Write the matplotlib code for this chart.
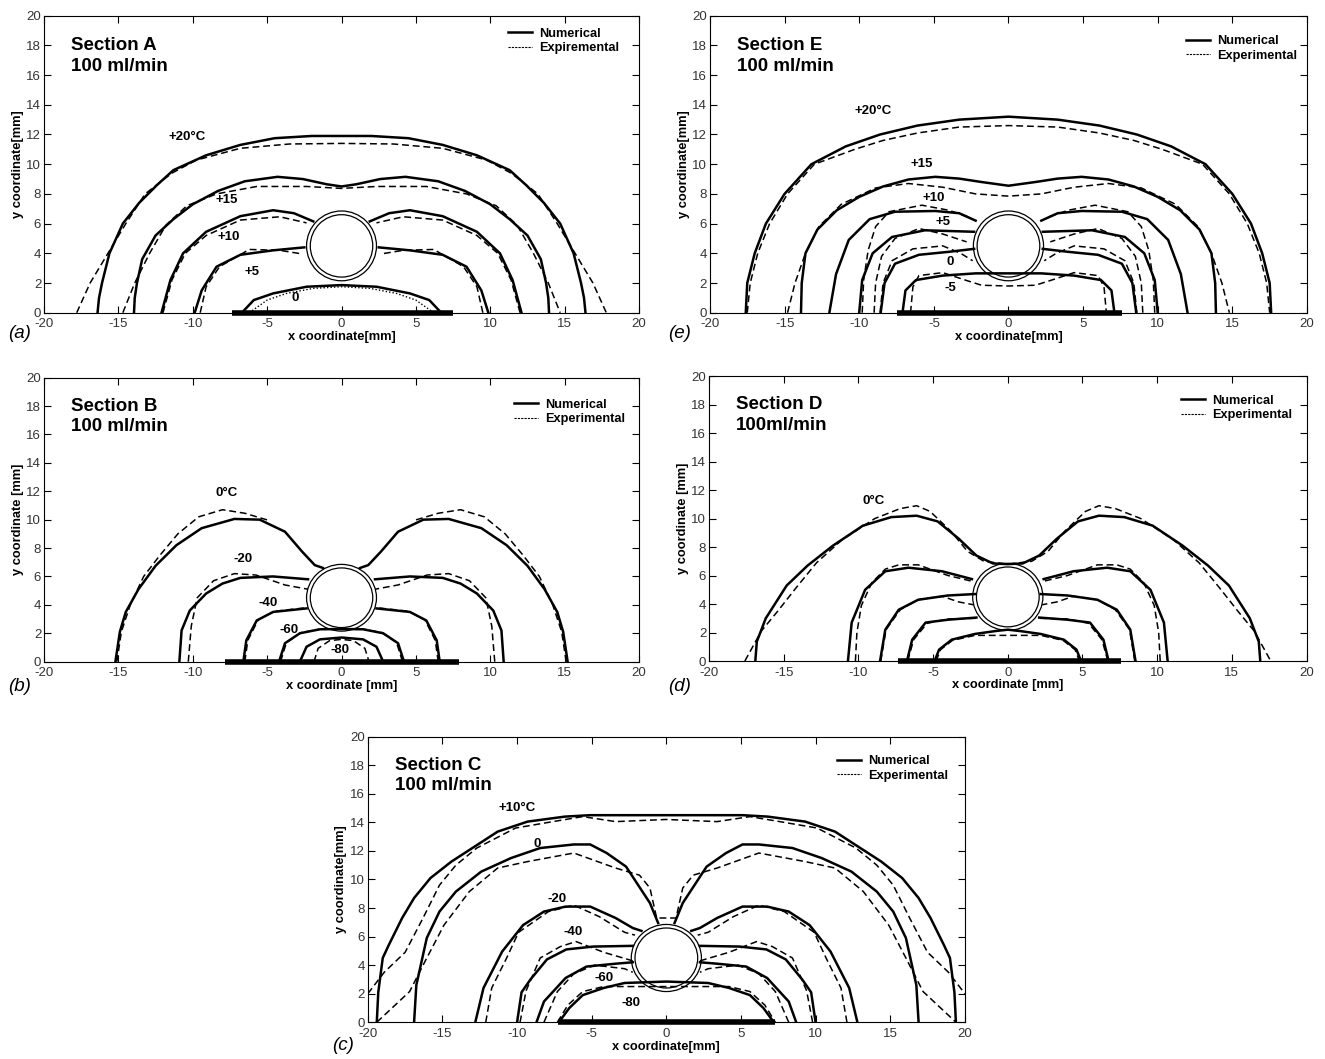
import numpy as np
import matplotlib
matplotlib.use("Agg")
import matplotlib.pyplot as plt
from matplotlib.lines import Line2D
from matplotlib.patches import Circle

plt.rcParams['font.family'] = ['Liberation Sans', 'DejaVu Sans']
plt.rcParams['axes.unicode_minus'] = False

# Isotherms are symmetric about x = 0: only the left half (x <= 0) is stored.
# A half ending at x = 0 runs over the tube, otherwise it stops at the tube wall.

# ---- Section A
A20_num = ([-16.4, -16.3, -16.1, -15.6, -14.7, -13.6, -12.4, -11.3, -9.1, -6.8, -4.5, -2.0, 0],
           [0, 1, 2, 4, 6, 7.4, 8.6, 9.6, 10.6, 11.3, 11.75, 11.9, 11.9])
A20_exp = ([-17.8, -16.9, -15.7, -14.5, -13.2, -11.4, -9.75, -6.8, -3.5, 0],
           [0, 2, 4, 6, 8, 9.4, 10.28, 11.07, 11.36, 11.4])
A15_num = ([-13.95, -13.9, -13.75, -13.4, -12.5, -11.3, -10.0, -8.3, -6.5, -4.3, -2.6, -1.0, 0],
           [0, 1, 2, 3.6, 5.2, 6.3, 7.3, 8.2, 8.85, 9.15, 9.0, 8.65, 8.5])
A15_exp = ([-14.7, -13.9, -12.9, -11.8, -10.4, -8.4, -5.7, -2.35, 0],
           [0, 2, 4, 5.9, 7.2, 8.0, 8.5, 8.5, 8.37])
A10_num = ([-12.1, -11.5, -10.65, -9.1, -6.8, -4.6, -3.2, -1.9],
           [0, 2.2, 4.0, 5.45, 6.5, 6.9, 6.7, 6.15])
A10_exp = ([-12.0, -11.4, -10.5, -9.1, -6.8, -4.15, -2.35],
           [0, 2.2, 4.0, 5.2, 6.24, 6.46, 6.05])
A5_num = ([-9.87, -9.4, -8.4, -6.8, -4.6, -2.5], [0, 1.5, 3.1, 3.9, 4.2, 4.4])
A5_exp = ([-9.5, -9.1, -8.2, -6.2, -4.15, -2.6], [0, 1.75, 3.1, 4.26, 4.2, 3.95])
A0_num = ([-6.7, -5.9, -4.6, -2.35, 0], [0, 0.85, 1.3, 1.75, 1.86])
A0_exp = ([-6.2, -5.0, -3.7, -1.9, 0], [0, 0.85, 1.3, 1.64, 1.75])

# ---- Section E
E20_num = ([-17.6, -17.5, -17.0, -16.25, -15.0, -13.2, -10.9, -8.6, -6.1, -3.3, 0],
           [0, 2, 4, 6, 8, 10, 11.2, 12.0, 12.6, 13.0, 13.2])
E20_exp = ([-17.5, -17.3, -16.8, -16.0, -14.8, -13.0, -10.3, -8.4, -6.1, -3.3, 0],
           [0, 2, 4, 6, 8, 10, 11.0, 11.6, 12.1, 12.5, 12.6])
E15_num = ([-13.9, -13.85, -13.6, -12.8, -11.5, -10.0, -8.4, -6.7, -4.9, -3.3, -1.8, 0],
           [0, 2, 4, 5.6, 6.9, 7.8, 8.5, 8.97, 9.15, 9.03, 8.8, 8.55])
E15_exp = ([-14.8, -14.3, -13.6, -12.7, -11.2, -8.9, -6.7, -4.4, -2.2, 0],
           [0, 2, 4, 5.8, 7.3, 8.4, 8.7, 8.45, 8.0, 7.85])
E10_num = ([-12.0, -11.55, -10.7, -9.3, -7.6, -4.9, -3.3, -2.2],
           [0, 2.6, 4.9, 6.3, 6.8, 6.85, 6.7, 6.2])
E10_exp = ([-9.8, -9.7, -9.4, -8.9, -8.0, -5.8, -4.0, -2.7],
           [0, 2.2, 4.2, 5.8, 6.8, 7.24, 6.9, 6.45])
E5_num = ([-10.0, -9.8, -9.1, -7.8, -5.6, -2.3], [0, 2.2, 4.0, 5.1, 5.55, 5.45])
E5_exp = ([-9.0, -8.9, -8.5, -7.6, -6.0, -4.4, -2.8], [0, 2, 3.8, 5.0, 5.67, 5.3, 4.77])
E0_num = ([-8.56, -8.3, -7.6, -6.0, -4.0, -2.3], [0, 2.0, 3.3, 3.9, 4.1, 4.3])
E0_exp = ([-8.6, -8.4, -7.8, -6.4, -4.4, -3.2, -2.4], [0, 2, 3.5, 4.3, 4.5, 4.0, 3.5])
Em5_num = ([-7.1, -6.9, -6.2, -4.4, -2.2, 0], [0, 1.5, 2.2, 2.5, 2.65, 2.65])
Em5_exp = ([-6.56, -6.4, -6.0, -4.4, -2.9, -1.8, 0], [0, 1.75, 2.5, 2.7, 2.2, 1.85, 1.8])

# ---- Section B
B0_num = ([-15.2, -14.9, -14.5, -13.65, -12.5, -11.1, -9.4, -7.2, -5.5, -3.8, -2.65, -1.8, -1.25],
          [0, 2.1, 3.5, 5.1, 6.75, 8.2, 9.4, 10.05, 10.0, 9.15, 7.75, 6.8, 6.6])
B0_exp = ([-15.1, -14.8, -14.2, -13.3, -12.2, -11.0, -9.6, -8.0, -6.5, -4.9],
          [0, 2.1, 4.0, 6.0, 7.5, 9.0, 10.2, 10.7, 10.45, 9.95])
Bm20_num = ([-10.9, -10.75, -10.2, -9.1, -8.0, -6.8, -4.6, -2.25], [0, 2.2, 3.6, 4.8, 5.5, 5.9, 6.0, 5.8])
Bm20_exp = ([-10.3, -10.1, -9.7, -8.6, -7.2, -5.75, -3.8, -2.25], [0, 2.5, 4.5, 5.7, 6.2, 6.1, 5.4, 5.1])
Bm40_num = ([-6.6, -6.4, -5.7, -4.6, -2.35], [0, 1.5, 2.9, 3.5, 3.75])
Bm40_exp = ([-6.5, -6.3, -5.6, -4.5, -2.35], [0, 1.5, 2.95, 3.55, 3.8])
Bm60_num = ([-4.2, -3.8, -2.8, -1.45, 0], [0, 1.3, 2.0, 2.28, 2.3])
Bm60_exp = ([-4.1, -3.7, -2.7, -1.4, 0], [0, 1.35, 2.05, 2.3, 2.3])
Bm80_num = ([-2.8, -2.35, -1.45, 0], [0, 1.05, 1.57, 1.7])
Bm80_exp = ([-1.85, -1.57, -0.8, 0], [0, 0.94, 1.48, 1.57])

# ---- Section D
D1_num = ([-16.9, -16.8, -16.2, -14.8, -13.4, -11.7, -9.7, -7.8, -6.1, -4.7, -3.3, -2.1, -1.0, 0],
          [0, 1.36, 3.0, 5.3, 6.7, 8.1, 9.5, 10.1, 10.2, 9.8, 8.6, 7.4, 6.85, 6.8])
D1_exp = ([-17.6, -16.5, -15.4, -14.2, -12.8, -11.1, -8.9, -7.2, -6.1, -5.2, -3.8, -2.7, -1.6, 0],
          [0, 2.1, 3.5, 5.1, 6.9, 8.5, 10.0, 10.7, 10.9, 10.5, 9.1, 7.7, 7.0, 6.8])
D2_num = ([-10.7, -10.45, -9.55, -8.2, -6.65, -4.4, -2.4], [0, 2.7, 5.0, 6.3, 6.55, 6.3, 5.75])
D2_exp = ([-10.2, -10.1, -9.8, -9.1, -8.2, -7.3, -6.0, -4.0, -2.4],
          [0, 2.0, 3.9, 5.5, 6.45, 6.75, 6.75, 6.0, 5.6])
D3_num = ([-8.55, -8.2, -7.3, -6.0, -4.0, -2.2], [0, 2.2, 3.6, 4.3, 4.6, 4.7])
D3_exp = ([-8.5, -8.15, -7.2, -6.0, -4.4, -3.3, -2.3], [0, 2.2, 3.6, 4.3, 4.55, 4.15, 3.95])
D4_num = ([-6.75, -6.4, -5.5, -4.0, -2.1], [0, 1.5, 2.7, 2.9, 3.05])
D4_exp = ([-6.7, -6.3, -5.4, -4.0, -2.1], [0, 1.5, 2.65, 2.95, 3.0])
D5_num = ([-4.9, -4.6, -3.75, -2.2, -0.85, 0], [0, 0.8, 1.5, 1.9, 2.1, 2.2])
D5_exp = ([-4.8, -4.5, -3.7, -2.2, -1.0, 0], [0, 0.8, 1.45, 1.8, 1.8, 1.8])

# ---- Section C
C10_num = ([-19.4, -19.3, -19.0, -18.6, -17.7, -16.9, -15.8, -14.4, -12.7, -11.3, -9.3, -6.8, -5.1, 0],
           [0, 2.1, 4.5, 5.4, 7.3, 8.7, 10.1, 11.25, 12.4, 13.35, 14.05, 14.4, 14.5, 14.5])
C10_exp = ([-20.0, -18.9, -17.5, -16.3, -15.2, -14.1, -12.7, -10.1, -7.6, -5.6, -3.4, 0],
           [2.0, 3.5, 4.9, 7.3, 9.6, 11.0, 12.2, 13.6, 14.05, 14.4, 14.05, 14.2])
C0_num = ([-16.9, -16.75, -16.05, -15.2, -14.1, -12.4, -10.4, -8.45, -6.2, -5.1, -4.0, -2.7, -1.1, -0.55],
          [0, 2.6, 5.9, 7.75, 9.15, 10.55, 11.5, 12.2, 12.45, 12.45, 11.85, 10.9, 8.35, 6.95])
C0_exp = ([-19.4, -17.2, -16.05, -14.9, -13.2, -11.3, -9.3, -6.2, -3.4, -1.8, -1.1, -0.65, 0],
          [0, 2.15, 4.5, 6.8, 9.15, 10.8, 11.25, 11.85, 10.8, 10.3, 9.4, 7.3, 7.3])
Cm20_num = ([-12.8, -12.25, -11.0, -9.6, -8.2, -6.75, -5.1, -3.4, -2.25, -1.67],
            [0, 2.4, 4.95, 6.8, 7.75, 8.1, 8.1, 7.3, 6.6, 6.4])
Cm20_exp = ([-12.1, -11.7, -10.7, -9.9, -7.9, -6.2, -4.5, -2.8, -2.1],
            [0, 2.4, 4.5, 6.3, 7.75, 8.2, 7.4, 6.3, 6.1])
Cm40_num = ([-10.0, -9.7, -9.1, -8.0, -6.7, -4.9, -2.25], [0, 2.1, 3.0, 4.4, 5.1, 5.3, 5.35])
Cm40_exp = ([-9.8, -9.4, -8.45, -7.1, -6.05, -4.2, -2.25], [0, 2.2, 4.5, 5.3, 5.65, 4.9, 4.3])
Cm60_num = ([-8.7, -8.2, -6.75, -5.35, -3.4, -2.25], [0, 1.45, 3.1, 3.9, 4.1, 4.2])
Cm60_exp = ([-8.2, -7.3, -6.2, -4.8, -2.8, -2.25], [0, 2.15, 3.4, 4.0, 3.75, 3.5])
Cm80_num = ([-7.2, -6.5, -5.6, -4.2, -2.8, 0], [0, 1.0, 1.9, 2.4, 2.75, 2.85])
Cm80_exp = ([-7.3, -6.6, -5.6, -4.2, -2.8, 0], [0, 1.2, 2.15, 2.5, 2.5, 2.5])

# heating strip at y = 0 (x from, x to)
heater_A = [-7.35, 7.5]
heater_E = [-7.45, 7.6]
heater_B = [-7.8, 7.9]
heater_D = [-7.35, 7.6]
heater_C = [-7.25, 7.25]

TUBE_Y = 4.5
TUBE_R = [2.1, 2.35]


def halves(curve):
    x = np.asarray(curve[0], float)
    y = np.asarray(curve[1], float)
    if x[-1] == 0:
        return [(np.r_[x, -x[-2::-1]], np.r_[y, y[-2::-1]])]
    return [(x, y), (-x, y)]


def draw_panel(rect, num, exp, heater, labels, title, rate, leg_labels,
               leg_anchor, spaced, letter, letter_pos, dotted_last=False):
    ax = fig.add_axes(rect)
    for c in num:
        for x, y in halves(c):
            ax.plot(x, y, color='k', lw=1.8, solid_joinstyle='round')
    for i, c in enumerate(exp):
        for x, y in halves(c):
            if dotted_last and i == len(exp) - 1:
                ax.plot(x, y, color='k', lw=1.0, ls=(0, (1, 1.5)))
            else:
                ax.plot(x, y, color='k', lw=1.1, dashes=(4.5, 2.5))
    for r in TUBE_R:
        ax.add_patch(Circle((0, TUBE_Y), r, fill=False, lw=0.9, ec='k'))
    ax.plot(heater, [0, 0], color='k', lw=4.0, solid_capstyle='butt',
            clip_on=False, zorder=5)
    for txt, x, y in labels:
        ax.text(x, y, txt, fontsize=9.5, weight='bold', ha='center', va='center')

    ax.text(-18.2, 18.0, title, fontsize=13.5, weight='bold', va='center')
    ax.text(-18.2, 16.55, rate, fontsize=13.5, weight='bold', va='center')

    handles = [Line2D([], [], color='k', lw=1.8),
               Line2D([], [], color='k', lw=0.8, dashes=(2, 1))]
    ax.legend(handles, leg_labels, loc='upper left', bbox_to_anchor=leg_anchor,
              frameon=False, prop={'weight': 'bold', 'size': 9.2},
              handlelength=1.9, handletextpad=0.55, labelspacing=0.2,
              borderpad=0, borderaxespad=0)

    ax.set_xlim(-20, 20)
    ax.set_ylim(0, 20)
    ax.set_xticks(np.arange(-20, 21, 5))
    ax.set_yticks(np.arange(0, 21, 2))
    ax.tick_params(direction='in', top=True, right=True, length=5, width=0.8,
                   labelsize=9.5, labelcolor='#333333')
    ax.tick_params(axis='x', pad=4)
    ax.tick_params(axis='y', pad=2)
    for s in ax.spines.values():
        s.set_linewidth(0.8)
    unit = ' [mm]' if spaced else '[mm]'
    ax.set_xlabel('x coordinate' + unit, fontsize=9.3, weight='bold', labelpad=0.5)
    ax.set_ylabel('y coordinate' + unit, fontsize=9.3, weight='bold', labelpad=2)
    fig.text(letter_pos[0], letter_pos[1], letter, fontsize=13.5, style='italic',
             ha='left', va='center')
    return ax


fig = plt.figure(figsize=(13.25, 10.59), dpi=100)

draw_panel([0.0332, 0.7047, 0.4491, 0.2805],
           [A20_num, A15_num, A10_num, A5_num, A0_num],
           [A20_exp, A15_exp, A10_exp, A5_exp, A0_exp], heater_A,
           [('+20°C', -10.4, 11.85), ('+15', -7.7, 7.6), ('+10', -7.6, 5.1),
            ('+5', -6.0, 2.75), ('0', -3.1, 1.0)],
           'Section A', '100 ml/min', ['Numerical', 'Expiremental'],
           (0.78, 0.96), False, '(a)', (0.006, 0.685), dotted_last=True)

draw_panel([0.5358, 0.7047, 0.4506, 0.2805],
           [E20_num, E15_num, E10_num, E5_num, E0_num, Em5_num],
           [E20_exp, E15_exp, E10_exp, E5_exp, E0_exp, Em5_exp], heater_E,
           [('+20°C', -9.1, 13.6), ('+15', -5.8, 10.0), ('+10', -5.0, 7.7),
            ('+5', -4.4, 6.1), ('0', -3.9, 3.4), ('-5', -3.9, 1.65)],
           'Section E', '100 ml/min', ['Numerical', 'Experimental'],
           (0.797, 0.935), False, '(e)', (0.504, 0.685))

draw_panel([0.0332, 0.3752, 0.4491, 0.2682],
           [B0_num, Bm20_num, Bm40_num, Bm60_num, Bm80_num],
           [B0_exp, Bm20_exp, Bm40_exp, Bm60_exp, Bm80_exp], heater_B,
           [('0°C', -7.7, 11.9), ('-20', -6.6, 7.2), ('-40', -4.9, 4.1),
            ('-60', -3.5, 2.2), ('-80', -0.1, 0.8)],
           'Section B', '100 ml/min', ['Numerical', 'Experimental'],
           (0.79, 0.925), True, '(b)', (0.006, 0.352))

draw_panel([0.5351, 0.3758, 0.4510, 0.2691],
           [D1_num, D2_num, D3_num, D4_num, D5_num],
           [D1_exp, D2_exp, D3_exp, D4_exp, D5_exp], heater_D,
           [('0°C', -9.0, 11.2)],
           'Section D', '100ml/min', ['Numerical', 'Experimental'],
           (0.79, 0.935), True, '(d)', (0.504, 0.352))

draw_panel([0.2776, 0.0347, 0.4506, 0.2697],
           [C10_num, C0_num, Cm20_num, Cm40_num, Cm60_num, Cm80_num],
           [C10_exp, C0_exp, Cm20_exp, Cm40_exp, Cm60_exp, Cm80_exp], heater_C,
           [('+10°C', -10.0, 15.0), ('0', -8.65, 12.5), ('-20', -7.3, 8.6),
            ('-40', -6.25, 6.3), ('-60', -4.2, 3.1), ('-80', -2.4, 1.33)],
           'Section C', '100 ml/min', ['Numerical', 'Experimental'],
           (0.785, 0.935), False, '(c)', (0.251, 0.013))

fig.savefig('out.png', dpi=100, facecolor='white')
